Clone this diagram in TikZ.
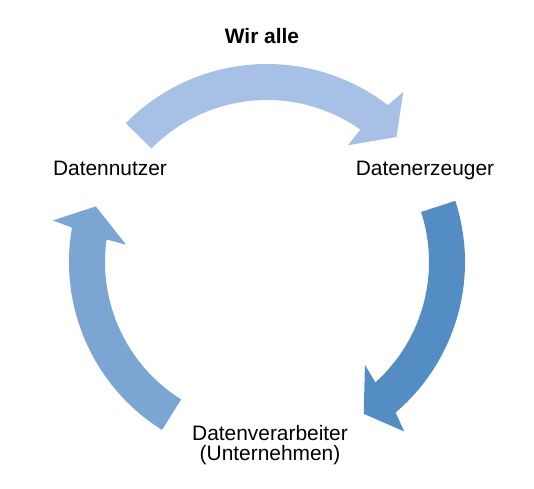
\documentclass[tikz,border=0pt]{standalone}
\usepackage{fontspec}
\setmainfont{Liberation Sans}
\definecolor{arrowtop}{RGB}{166,193,229}
\definecolor{arrowright}{RGB}{84,141,196}
\definecolor{arrowleft}{RGB}{123,165,211}
\tikzset{
  lbl/.style={font=\fontsize{20.9pt}{20pt}\selectfont, inner sep=0pt, anchor=base, align=center},
  cyc/.style={draw=none}
}
% #1 colour, #2 tail angle, #3 shaft end outer, #4 shaft end inner, #5 barb outer, #6 barb inner, #7 tip
\newcommand{\cyclearrow}[7]{%
  \fill[#1] (#2:198pt) arc[start angle=#2, end angle=#3, radius=198pt]
    -- (#5:218pt) -- (#7:180pt) -- (#6:142pt) -- (#4:162pt)
    arc[start angle=#4, end angle=#2, radius=162pt] -- cycle;}
\begin{document}
\begin{tikzpicture}[x=1pt,y=1pt]
\useasboundingbox (0,0) rectangle (534,488);
\begin{scope}[shift={(267,226)}]
  \cyclearrow{arrowtop}{135.5}{52.4}{54.8}{51.3}{55.3}{44}
  \cyclearrow{arrowright}{18}{-49.5}{-48}{-51}{-46.4}{-57.5}
  \cyclearrow{arrowleft}{238}{170}{172}{169}{173}{162}
\end{scope}
\node[lbl, font=\fontsize{20.9pt}{20pt}\selectfont\bfseries] (wir) at (262,444) {Wir alle};
\node[lbl] (nutzer) at (110,313) {Datennutzer};
\node[lbl] (erzeuger) at (425,313) {Datenerzeuger};
\node[lbl] (verarb) at (270,28) {Datenverarbeiter\\(Unternehmen)};
\end{tikzpicture}
\end{document}
